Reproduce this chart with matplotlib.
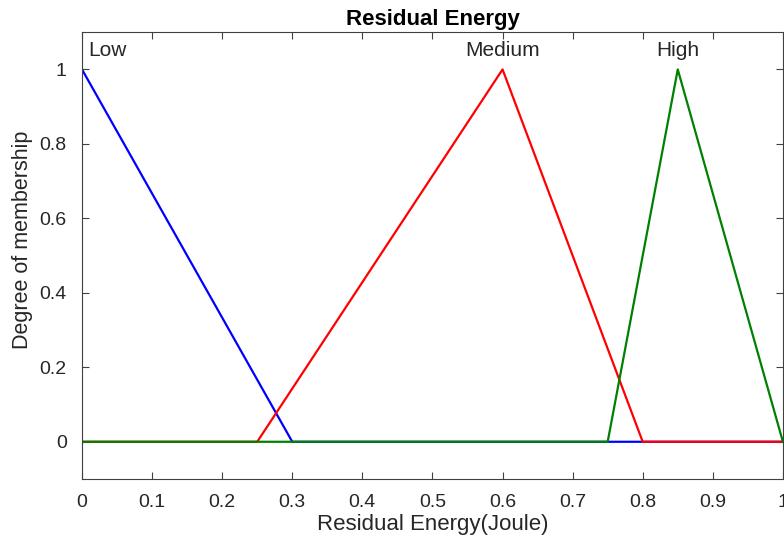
import matplotlib
matplotlib.use("Agg")
import matplotlib.pyplot as plt

# membership functions (x breakpoints, y values)
low_x = [0, 0.3, 1.0]
low_y = [1, 0, 0]
medium_x = [0, 0.25, 0.6, 0.8, 1.0]
medium_y = [0, 0, 1, 0, 0]
high_x = [0, 0.75, 0.85, 1.0]
high_y = [0, 0, 1, 0]

mf_names = ["Low", "Medium", "High"]
label_x = [0.009, 0.6, 0.85]
label_y = 1.05

xticks = [0, 0.1, 0.2, 0.3, 0.4, 0.5, 0.6, 0.7, 0.8, 0.9, 1]
xtick_labels = ["0", "0.1", "0.2", "0.3", "0.4", "0.5", "0.6", "0.7", "0.8", "0.9", "1"]
yticks = [0, 0.2, 0.4, 0.6, 0.8, 1]
ytick_labels = ["0", "0.2", "0.4", "0.6", "0.8", "1"]

plt.rcParams['font.family'] = ['Liberation Sans', 'DejaVu Sans']
txt = '#262626'

fig = plt.figure(figsize=(7.84, 5.39), dpi=100)
ax = fig.add_axes([0.1046, 0.1113, 0.894, 0.829])

ax.plot(low_x, low_y, color='#0000ff', lw=1.6)
ax.plot(medium_x, medium_y, color='#ff0000', lw=1.6)
ax.plot(high_x, high_y, color='#008000', lw=1.6)

ax.text(label_x[0], label_y, mf_names[0], ha='left', va='center', fontsize=15, color=txt)
for name, lx in zip(mf_names[1:], label_x[1:]):
    ax.text(lx, label_y, name, ha='center', va='center', fontsize=15, color=txt)

ax.set_xlim(0, 1)
ax.set_ylim(-0.1, 1.1)
ax.set_xticks(xticks)
ax.set_xticklabels(xtick_labels)
ax.set_yticks(yticks)
ax.set_yticklabels(ytick_labels)
ax.tick_params(direction='in', top=True, right=True, length=5, width=0.8,
               labelsize=14, labelcolor=txt, color='#404040')
ax.tick_params(axis='x', pad=11)
ax.tick_params(axis='y', pad=11)
for sp in ax.spines.values():
    sp.set_color('#404040')
    sp.set_linewidth(0.8)

ax.set_title("Residual Energy", fontsize=16, fontweight='bold', pad=5)
ax.set_xlabel("Residual Energy(Joule)", fontsize=16, color=txt, labelpad=2)
ax.set_ylabel("Degree of membership", fontsize=15.5, color=txt)
ax.yaxis.set_label_coords(-0.070, 0.535)

fig.savefig("out.png", dpi=100)
